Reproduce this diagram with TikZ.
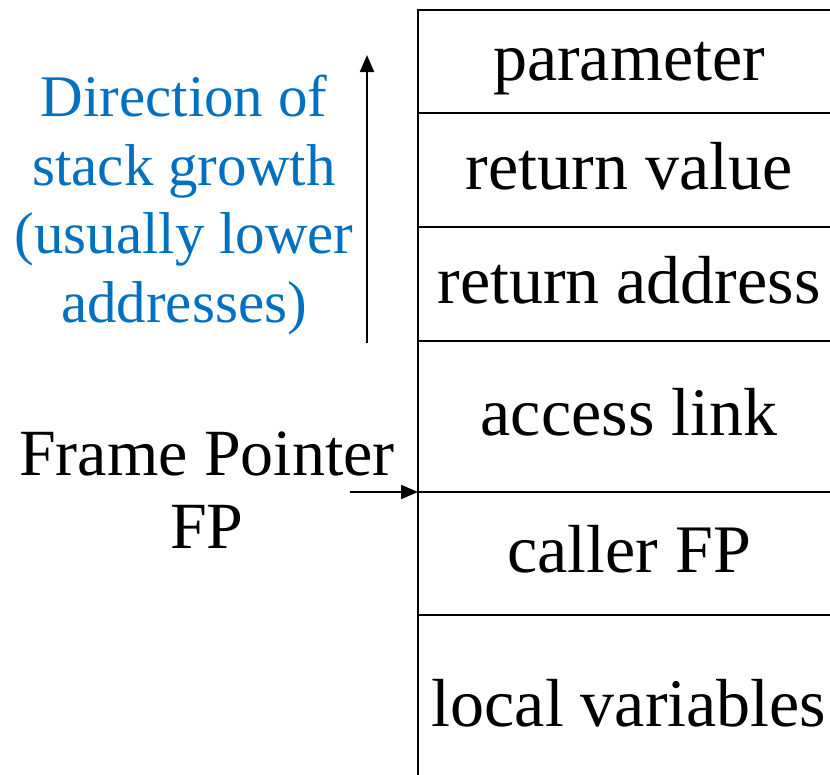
\documentclass[tikz,border=0pt]{standalone}
\usepackage{fontspec}
\setmainfont{Liberation Serif}
\usetikzlibrary{arrows.meta, positioning}
\definecolor{growthblue}{RGB}{0,112,192}

\begin{document}
\begin{tikzpicture}[
    x=1pt, y=-1pt,
    slot/.style={rectangle, draw=black, line width=2.4pt, minimum width=422pt, inner sep=0pt, outer sep=0pt, text height=48pt, text depth=10pt, font=\fontsize{68}{78}\selectfont},
    arrow/.style={line width=2pt, -{Triangle[length=17pt, width=14pt]}},
    every node/.style={align=center}
]
\useasboundingbox (0,0) rectangle (830,774);

% Nodes
\node (param) [slot, minimum height=103pt, anchor=north west] at (418,10) {parameter};
\node (retval) [slot, minimum height=114pt, below=0pt of param] {return value};
\node (retaddr) [slot, minimum height=114pt, below=0pt of retval] {return address};
\node (access) [slot, minimum height=151pt, below=0pt of retaddr] {access link};
\node (caller) [slot, minimum height=123pt, below=0pt of access] {caller FP};
\node (locals) [slot, minimum height=185pt, below=0pt of caller] {local variables};
\node (growth) [text=growthblue, font=\fontsize{59}{68.5}\selectfont] at (184,205) {Direction of\\stack growth\\(usually lower\\addresses)};
\node (fp) [font=\fontsize{66}{73}\selectfont] at (207,490) {Frame Pointer\\FP};
\coordinate (growthstart) at (367,343);
\coordinate (growthend) at (367,55);
\coordinate (fpstart) at (350,492);

% Arrows
\draw [arrow] (growthstart) -- (growthend);
\draw [arrow] (fpstart) -- (caller.north west);

\end{tikzpicture}
\end{document}
